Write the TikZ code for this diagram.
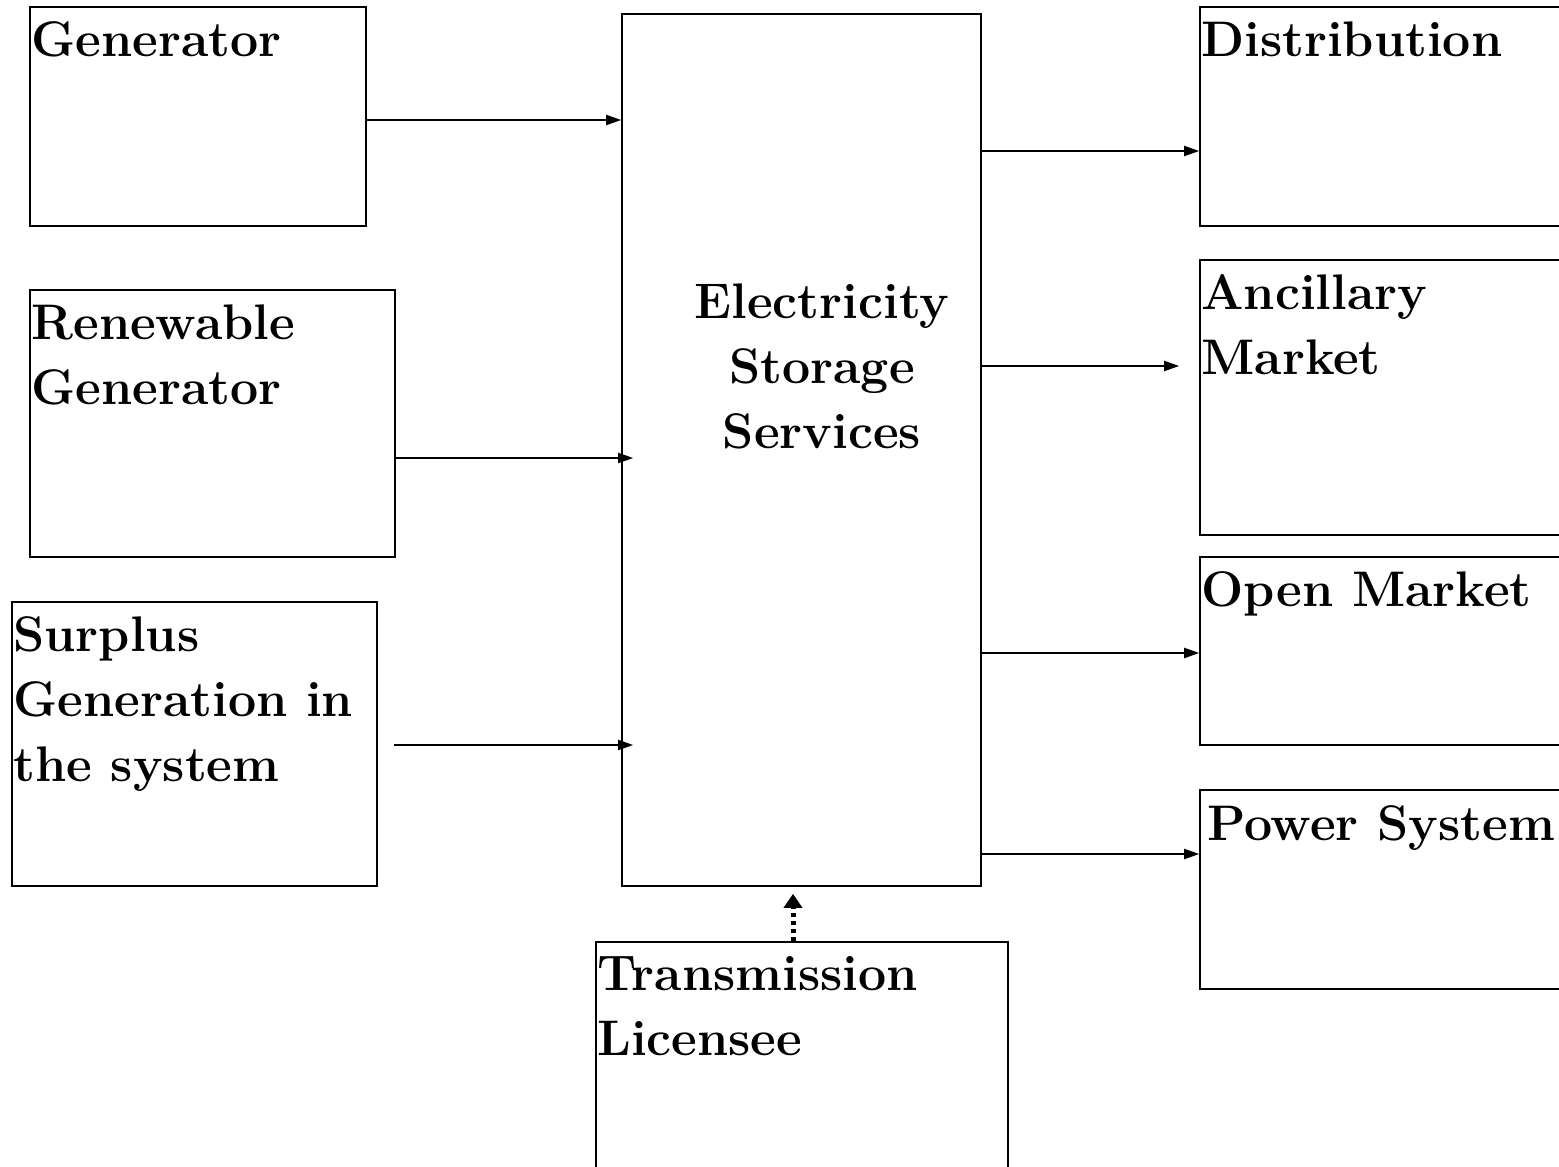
\documentclass[tikz,border=0pt]{standalone}
\usepackage{tikz}
\usetikzlibrary{arrows.meta}
\tikzset{
    block/.style={rectangle, draw, line width=1.6pt, inner sep=0pt},
    boxtext/.style={anchor=north west, align=left, inner xsep=2pt,
    	inner ysep=15pt, font=\fontsize{50}{65}\selectfont\bfseries}
}
\tikzset{
    flow/.style={line width=2pt, -{Triangle[length=15pt,width=10pt]}},
    dotflow/.style={line width=5pt, dash pattern=on 4pt off 4pt,
    	-{Triangle[length=14pt,width=18pt]}}
}

\begin{document}
\begin{tikzpicture}[x=1pt,y=-1pt]
	\useasboundingbox (0,0) rectangle (1559,1167);
	% sources
	\node (gen) [block, minimum width=336pt, minimum height=219pt,
		label={[boxtext]north west:Generator}] at (198,116.5) {};
	\node (ren) [block, minimum width=365pt, minimum height=267pt,
		label={[boxtext]north west:Renewable\\Generator}] at (212.5,423.5) {};
	\node (sur) [block, minimum width=365pt, minimum height=284pt,
		label={[boxtext]north west:Surplus\\Generation in\\the system}] at (194.5,744) {};
	% storage
	\node (ess) [block, minimum width=359pt, minimum height=872pt] at (801.5,450) {};
	\node (esstext) [boxtext, anchor=center, align=center, inner sep=0pt]
		at (822,366) {Electricity\\Storage\\Services};
	\node (trl) [block, minimum width=412pt, minimum height=238pt,
		label={[boxtext]north west:Transmission\\Licensee}] at (802,1061) {};
	% sinks
	\node (dis) [block, minimum width=370pt, minimum height=219pt,
		label={[boxtext]north west:Distribution}] at (1385,116.5) {};
	\node (anc) [block, minimum width=370pt, minimum height=275pt,
		label={[boxtext]north west:Ancillary\\Market}] at (1385,397.5) {};
	\node (opm) [block, minimum width=370pt, minimum height=188pt,
		label={[boxtext]north west:Open Market}] at (1385,651) {};
	\node (pws) [block, minimum width=370pt, minimum height=199pt,
		label={[boxtext, inner xsep=8pt, inner ysep=16pt]north west:Power System}] at (1385,889.5) {};

	\draw [flow] (gen.east |- 0,120) -- (ess.west |- 0,120);
	\draw [flow, shorten >=-12pt] (ren.east |- 0,458) -- (ess.west |- 0,458);
	\draw [flow, shorten <=16pt, shorten >=-12pt] (sur.east |- 0,745) -- (ess.west |- 0,745);
	\draw [flow] (ess.east |- 0,151) -- (dis.west |- 0,151);
	\draw [flow, shorten >=20pt] (ess.east |- 0,366) -- (anc.west |- 0,366);
	\draw [flow] (ess.east |- 0,653) -- (opm.west |- 0,653);
	\draw [flow] (ess.east |- 0,854) -- (pws.west |- 0,854);
	\draw [dotflow, shorten >=7pt] (trl.north -| 793,0) -- (ess.south -| 793,0);
\end{tikzpicture}
\end{document}
